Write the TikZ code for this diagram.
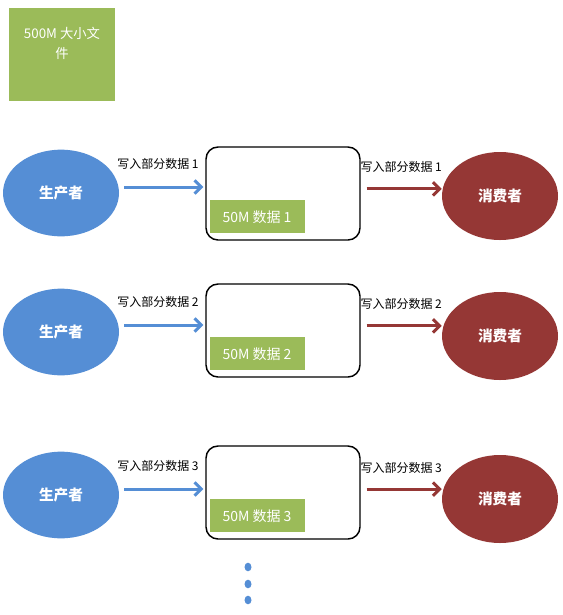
\documentclass[tikz,border=0pt]{standalone}
\usepackage{fontspec}
\newfontfamily\cjk{Noto Sans CJK SC}
\usepackage{tikz}
\usetikzlibrary{shapes.geometric, arrows.meta, positioning}
\definecolor{prodblue}{RGB}{85,142,213}
\definecolor{consred}{RGB}{149,55,53}
\definecolor{chunkgreen}{RGB}{155,187,89}

\begin{document}
\begin{tikzpicture}[x=0.75pt, y=-0.75pt, font=\cjk\fontsize{9}{11}\selectfont]
    \tikzstyle{producer} = [ellipse, fill=prodblue, minimum width=87pt, minimum height=65pt, text=white, font=\cjk\bfseries\fontsize{11}{13}\selectfont]
    \tikzstyle{consumer} = [ellipse, fill=consred, minimum width=87pt, minimum height=66pt, text=white, font=\cjk\bfseries\fontsize{11}{13}\selectfont]
    \tikzstyle{queue} = [rectangle, draw, line width=1.1pt, rounded corners=9pt, minimum width=115.5pt, minimum height=69.75pt]
    \tikzstyle{chunk} = [rectangle, fill=chunkgreen, text=white, minimum width=71.25pt, minimum height=24.75pt, font=\cjk\fontsize{10.5}{12}\selectfont]
    \tikzstyle{filebox} = [rectangle, fill=chunkgreen, text=white, minimum width=79.5pt, minimum height=69.75pt, align=center, text depth=18pt, font=\cjk\fontsize{10}{15}\selectfont]
    \tikzstyle{feed} = [draw, prodblue, line width=2.25pt, -{Straight Barb[length=5pt, width=10pt]}, shorten <=3.75pt, shorten >=1.5pt]
    \tikzstyle{take} = [draw, consred, line width=2.25pt, -{Straight Barb[length=5pt, width=10pt]}, shorten <=4.5pt]
    \tikzstyle{dot} = [ellipse, fill=prodblue, inner sep=0pt, minimum width=5.25pt, minimum height=6.5pt]

    \useasboundingbox (0,0) rectangle (563,615);

    \node [filebox] (file) at (62,54.5) {500M 大小文\\件};

    % row 1
    \node [producer] (prod1) at (61,193) {生产者};
    \node [queue] (queue1) at (283,193.5) {};
    \node [chunk, above right=5.25pt and 3pt of queue1.south west] (chunk1) {50M 数据 1};
    \node [consumer] (cons1) at (500,196) {消费者};
    \path [feed] ([yshift=4.5pt]prod1.east) -- node [above=9pt, black, pos=0.45] {写入部分数据 1} ([yshift=4.5pt]prod1.east -| queue1.west);
    \path [take] ([yshift=3.5pt]queue1.east) -- node [above=7.5pt, black] {写入部分数据 1} ([yshift=3.5pt]queue1.east -| cons1.west);

    % row 2
    \node [producer] (prod2) at (61,332) {生产者};
    \node [queue] (queue2) at (283,330.5) {};
    \node [chunk, above right=5.25pt and 3pt of queue2.south west] (chunk2) {50M 数据 2};
    \node [consumer] (cons2) at (500,336) {消费者};
    \path [feed] ([yshift=5.25pt]prod2.east) -- node [above=9pt, black, pos=0.45] {写入部分数据 2} ([yshift=5.25pt]prod2.east -| queue2.west);
    \path [take] ([yshift=3.5pt]queue2.east) -- node [above=7.5pt, black] {写入部分数据 2} ([yshift=3.5pt]queue2.east -| cons2.west);

    % row 3
    \node [producer] (prod3) at (61,495) {生产者};
    \node [queue] (queue3) at (283,492.5) {};
    \node [chunk, above right=5.25pt and 3pt of queue3.south west] (chunk3) {50M 数据 3};
    \node [consumer] (cons3) at (500,499) {消费者};
    \path [feed] ([yshift=4.5pt]prod3.east) -- node [above=9pt, black, pos=0.45] {写入部分数据 3} ([yshift=4.5pt]prod3.east -| queue3.west);
    \path [take] ([yshift=2.6pt]queue3.east) -- node [above=7.5pt, black] {写入部分数据 3} ([yshift=2.6pt]queue3.east -| cons3.west);

    % more rows
    \node [dot] (more1) at (248,567) {};
    \node [dot] (more2) at (248,584) {};
    \node [dot] (more3) at (248,600) {};
\end{tikzpicture}
\end{document}
